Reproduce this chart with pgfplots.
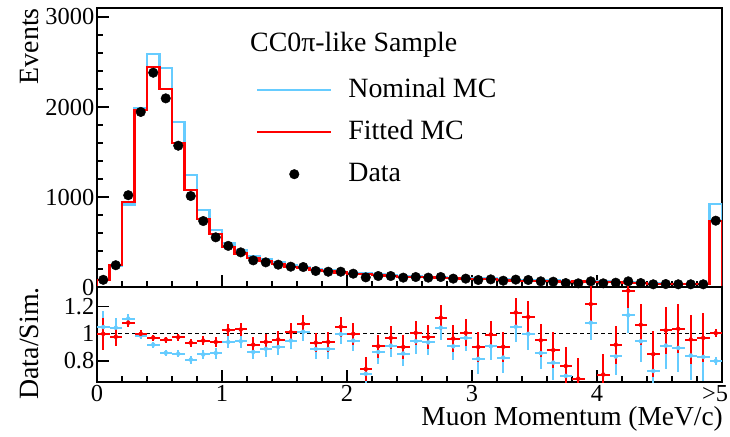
\documentclass[border=0pt]{standalone}
\usepackage{pgfplots}
\pgfplotsset{compat=1.18}
\usepackage{pgfplotstable}
\usepackage{fontspec}
\setmainfont{Liberation Serif}
\definecolor{nomblue}{RGB}{102,204,255}
\definecolor{fitred}{RGB}{255,0,0}

\pgfplotstableread{
x nom fit
0.0 0 0
0.0 76 80
0.1 232 248
0.2 917 943
0.3 1985 1965
0.4 2585 2448
0.5 2430 2196
0.6 1837 1604
0.7 1248 1074
0.8 856 759
0.9 633 585
1.0 486 445
1.1 407 373
1.2 342 322
1.3 308 291
1.4 275 259
1.5 238 223
1.6 219 207
1.7 200 190
1.8 191 181
1.9 171 162
2.0 156 148
2.1 152 145
2.2 141 134
2.3 134 126
2.4 122 115
2.5 117 110
2.6 111 107
2.7 106 99
2.8 102 96
2.9 96 92
3.0 96 86
3.1 94 85
3.2 85 77
3.3 78 71
3.4 78 69
3.5 73 66
3.6 75 67
3.7 64 58
3.8 68 61
3.9 58 52
4.0 66 59
4.1 58 52
4.2 55 48
4.3 47 41
4.4 41 35
4.5 36 32
4.6 33 29
4.7 36 31
4.8 36 31
4.9 921 733
5.0 921 733
5.0 0 0
}\histtab

\pgfplotstableread{
x data rnom rfit err
0.05 80 1.05 1.0 0.12
0.15 242 1.045 0.978 0.07
0.25 1020 1.112 1.082 0.035
0.35 1945 0.987 1.0 0.025
0.45 2381 0.92 0.972 0.022
0.55 2096 0.86 0.958 0.022
0.65 1570 0.853 0.975 0.025
0.75 1011 0.81 0.935 0.03
0.85 733 0.848 0.95 0.035
0.95 552 0.858 0.94 0.04
1.05 457 0.94 1.027 0.045
1.15 385 0.945 1.032 0.05
1.25 296 0.866 0.92 0.055
1.35 274 0.89 0.94 0.06
1.45 248 0.903 0.958 0.06
1.55 226 0.95 1.012 0.065
1.65 222 1.015 1.074 0.065
1.75 178 0.888 0.935 0.07
1.85 170 0.888 0.94 0.075
1.95 170 0.997 1.052 0.075
2.05 148 0.95 1.0 0.08
2.15 107 0.706 0.74 0.09
2.25 122 0.866 0.908 0.085
2.35 122 0.913 0.97 0.085
2.45 104 0.855 0.903 0.09
2.55 111 0.945 1.007 0.09
2.65 104 0.937 0.975 0.09
2.75 111 1.045 1.119 0.09
2.85 93 0.908 0.965 0.1
2.95 93 0.97 1.007 0.1
3.05 78 0.816 0.903 0.11
3.15 85 0.908 0.995 0.1
3.25 70 0.825 0.905 0.11
3.35 82 1.052 1.157 0.11
3.45 78 1.0 1.124 0.12
3.55 63 0.858 0.952 0.12
3.65 59 0.788 0.88 0.13
3.75 44 0.69 0.763 0.14
3.85 41 0.6 0.67 0.15
3.95 63 1.082 1.219 0.13
4.05 41 0.62 0.70 0.15
4.15 48 0.833 0.92 0.14
4.25 63 1.137 1.318 0.13
4.35 44 0.945 1.067 0.15
4.45 30 0.726 0.85 0.17
4.55 33 0.913 1.025 0.17
4.65 30 0.896 1.037 0.18
4.75 30 0.84 0.958 0.18
4.85 30 0.83 0.97 0.18
4.95 737 0.8 1.005 0.03
}\datatab

\pgfplotsset{
  common/.style={
    scale only axis, width=625bp,
    xmin=0, xmax=5,
    tick align=inside, xtick pos=left, ytick pos=left,
    major tick length=12bp, minor tick length=6bp,
    axis line style={line width=1.6bp},
    tick style={line width=1.1bp, black},
    /pgf/number format/assume math mode=true,
    tick label style={font=\fontsize{24.5}{28}\selectfont},
    yticklabel style={inner sep=2.5bp},
    scaled ticks=false,
  }
}

\begin{document}
\begin{tikzpicture}
\path[use as bounding box] (0,0) rectangle (730bp,-437bp);
\begin{axis}[common,
  at={(97bp,-287bp)}, anchor=south west, height=279bp,
  ymin=0, ymax=3100,
  xtick={0,1,2,3,4,5}, xticklabels={}, minor x tick num=4,
  ytick={0,1000,2000,3000}, yticklabels={0,1000,2000,3000}, minor y tick num=4,
  legend style={at={(0.2544,0.7527)}, anchor=north west, draw=none, fill=none,
    inner sep=0pt, row sep=16bp, column sep=16bp,
    font=\fontsize{28}{32}\selectfont,
    nodes={inner sep=0pt, text height=20bp, text depth=6bp}},
  legend cell align=left,
  legend image code/.code={\draw[mark repeat=2,mark phase=2,#1] plot coordinates {(0bp,0bp) (37bp,0bp) (74bp,0bp)};},
]
\addplot[const plot, nomblue, line width=2.2bp, line join=miter] table[x=x,y=nom]{\histtab};
\addplot[const plot, fitred, line width=2.2bp, line join=miter] table[x=x,y=fit]{\histtab};
\addplot[only marks, mark=*, mark size=4.8bp, black] table[x=x,y=data]{\datatab};
\legend{Nominal MC, Fitted MC, Data}
\end{axis}
\begin{axis}[common,
  at={(97bp,-382bp)}, anchor=south west, height=95bp,
  ymin=0.645, ymax=1.345,
  xtick={0,1,2,3,4,5}, xticklabels={0,1,2,3,4,{\llap{>}5}}, minor x tick num=4,
  ytick={0.8,1,1.2}, yticklabels={0.8,1,1.2},
]
\addplot[black, line width=1bp, dash pattern=on 4bp off 3bp] coordinates {(0,1) (5,1)};
\addplot[only marks, mark=none, nomblue,
  error bars/.cd, x dir=both, x fixed=0.05, y dir=both, y explicit, error mark=none,
  error bar style={line width=2bp, nomblue}] table[x=x, y=rnom, y error=err]{\datatab};
\addplot[only marks, mark=none, fitred,
  error bars/.cd, x dir=both, x fixed=0.05, y dir=both, y explicit, error mark=none,
  error bar style={line width=2bp, fitred}] table[x=x, y=rfit, y error=err]{\datatab};
\end{axis}
\node[rotate=90, anchor=base east, inner sep=0pt, font=\fontsize{28}{32}\selectfont] at (38bp,-8bp) {Events};
\node[rotate=90, anchor=base east, inner sep=0pt, font=\fontsize{28}{32}\selectfont] at (38bp,-287bp) {Data/Sim.};
\node[anchor=base east, inner sep=0pt, font=\fontsize{27.5}{32}\selectfont] at (723bp,-425bp) {Muon Momentum (MeV/c)};
\node[anchor=base west, inner sep=0pt, font=\fontsize{28}{32}\selectfont] at (250bp,-51bp) {CC0π-like Sample};
\end{tikzpicture}
\end{document}
